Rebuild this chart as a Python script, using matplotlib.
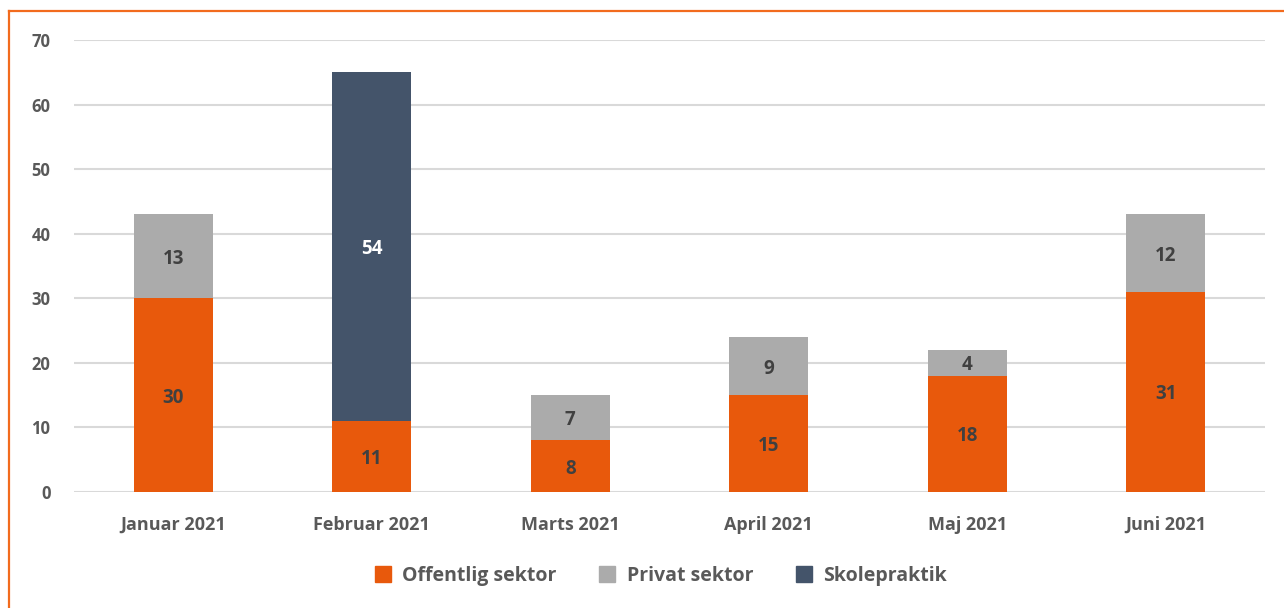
import matplotlib
matplotlib.use("Agg")
import matplotlib.pyplot as plt
from matplotlib.lines import Line2D
import numpy as np

months = ["Januar 2021", "Februar 2021", "Marts 2021", "April 2021", "Maj 2021", "Juni 2021"]
offentlig = [30, 11, 8, 15, 18, 31]
privat = [13, 0, 7, 9, 4, 12]
skolepraktik = [0, 54, 0, 0, 0, 0]
series_names = ["Offentlig sektor", "Privat sektor", "Skolepraktik"]

ORANGE = "#E8590C"
GREY = "#ABABAB"
NAVY = "#44546A"
TEXT = "#595959"

plt.rcParams["font.family"] = ["Open Sans", "DejaVu Sans"]

fig = plt.figure(figsize=(12.84, 6.08), dpi=100)
ax = fig.add_axes([74 / 1284, 116 / 608, (1265 - 74) / 1284, 452 / 608])

x = np.arange(len(months))
width = 0.40
colors = [ORANGE, GREY, NAVY]
label_colors = ["#404040", "#404040", "white"]
bottom = np.zeros(len(months))
for vals, name, col, lcol in zip([offentlig, privat, skolepraktik], series_names, colors, label_colors):
    vals = np.array(vals, dtype=float)
    ax.bar(x, vals, width, bottom=bottom, color=col, label=name, zorder=3)
    for xi, b, v in zip(x, bottom, vals):
        if v > 0:
            ax.text(xi, b + v / 2 - 0.4, f"{int(v)}", ha="center", va="center",
                    fontsize=13.5, fontweight="bold", color=lcol, zorder=4)
    bottom += vals

ax.set_xlim(-0.5, len(months) - 0.5)
ax.set_ylim(0, 70)
ax.set_yticks(range(0, 71, 10))
ax.set_xticks(x)
ax.set_xticklabels(months)
ax.grid(axis="y", color="#D9D9D9", linewidth=1.5, zorder=0)
for s in ax.spines.values():
    s.set_visible(False)
ax.tick_params(axis="y", length=0, pad=17, labelsize=12, labelcolor=TEXT)
ax.tick_params(axis="x", length=0, pad=17, labelsize=13, labelcolor=TEXT)
for lbl in ax.get_xticklabels() + ax.get_yticklabels():
    lbl.set_fontweight("bold")

handles = [Line2D([], [], marker="s", linestyle="", markersize=11, color=c) for c in colors]
fig.legend(handles, series_names, loc="center", bbox_to_anchor=(655 / 1284, 1 - 576 / 608),
           ncol=3, frameon=False, handletextpad=0.0, columnspacing=1.6,
           labelcolor=TEXT, prop={"weight": "bold", "size": 14})

# orange frame, only top and left edges visible in the crop
fig.add_artist(Line2D([8.5 / 1284, 8.5 / 1284], [0, 1 - 10.5 / 608], color="#F26B1D", linewidth=1.6))
fig.add_artist(Line2D([8.5 / 1284, 1], [1 - 10.5 / 608, 1 - 10.5 / 608], color="#F26B1D", linewidth=1.6))

fig.savefig("out.png", dpi=100)
